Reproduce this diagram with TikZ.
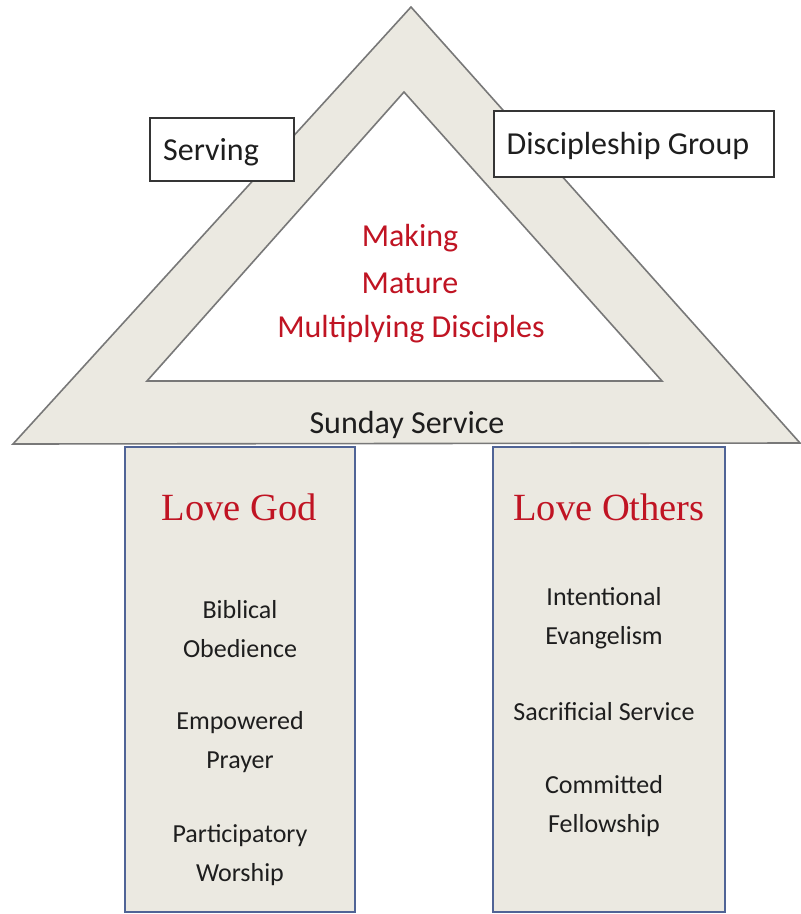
\documentclass[tikz,border=0pt]{standalone}
\usepackage{fontspec}
\setmainfont{Carlito}
\newfontfamily\timesfont{Liberation Serif}
\definecolor{beige}{RGB}{235,233,225}
\definecolor{edgegray}{RGB}{120,120,120}
\definecolor{pillarblue}{RGB}{80,100,150}
\definecolor{redtext}{RGB}{192,20,35}
\definecolor{darktext}{RGB}{30,30,30}
\tikzset{
  roof/.style={fill=beige, draw=edgegray, line width=1.6pt, line join=miter},
  innertri/.style={fill=white, draw=edgegray, line width=1.6pt},
  pillar/.style={fill=beige, draw=pillarblue, line width=2pt},
  labelbox/.style={fill=white, draw=darktext!90, line width=1.4pt},
  boxtext/.style={font=\fontsize{32}{38}\selectfont, text=darktext, inner sep=0pt},
  redline/.style={font=\fontsize{32}{38}\selectfont, text=redtext, inner sep=0pt},
  title/.style={font=\timesfont\fontsize{38.5}{44}\selectfont, text=redtext, inner sep=0pt},
  item/.style={font=\fontsize{26}{39}\selectfont, text=darktext, align=center, inner sep=0pt}
}
\begin{document}
\begin{tikzpicture}[x=1pt,y=-1pt]
\useasboundingbox (0,0) rectangle (801,914);
% roof
\draw[roof] (13,444) -- (411,7) -- (800,443) -- cycle;
\draw[innertri] (147,381) -- (404,92) -- (662,381) -- cycle;
% pillars
\draw[pillar] (125,447) rectangle (355,912);
\draw[pillar] (493,447) rectangle (725,912);
% label boxes
\draw[labelbox] (150,118) rectangle (294,181);
\draw[labelbox] (494,111) rectangle (774,177);
\node[boxtext] (serving) at (211,152) {Serving};
\node[boxtext] (dgroup) at (628,146) {Discipleship Group};
% center text
\node[redline] (making) at (410,238) {Making};
\node[redline] (mature) at (410,283) {Mature};
\node[redline] (multiplying) at (411,329) {Multiplying Disciples};
\node[boxtext] (sunday) at (407,425) {Sunday Service};
% pillar titles
\node[title] (lovegod) at (239,507) {Love God};
\node[title] (loveothers) at (609,507) {Love Others};
% left items
\node[item] (biblical) at (240,629) {Biblical\\Obedience};
\node[item] (empowered) at (240,742) {Empowered\\Prayer};
\node[item] (participatory) at (240,855) {Participatory\\Worship};
% right items
\node[item] (intentional) at (604,618) {Intentional\\Evangelism};
\node[item] (sacrificial) at (604,712) {Sacrificial Service};
\node[item] (committed) at (604,806) {Committed\\Fellowship};
\end{tikzpicture}
\end{document}
